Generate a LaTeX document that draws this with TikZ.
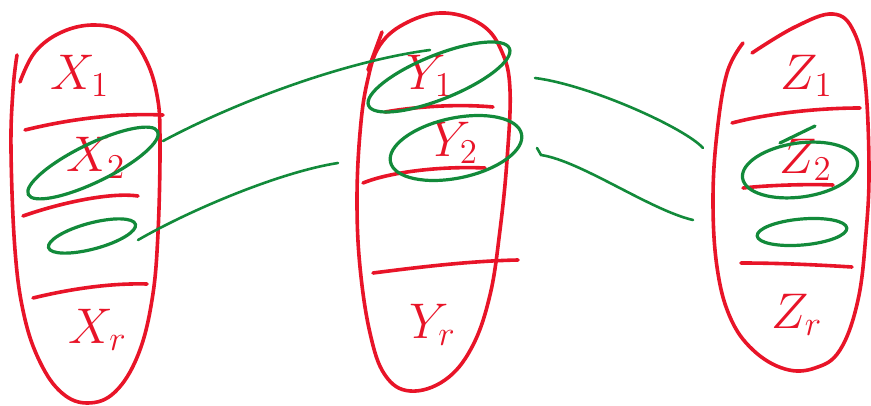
\documentclass[tikz,border=0pt]{standalone}
\definecolor{sred}{RGB}{232,20,40}
\definecolor{sgreen}{RGB}{18,138,58}
\begin{document}
\begin{tikzpicture}[x=1pt,y=-1pt,
  redline/.style={draw=sred,line width=3.6pt,line cap=round,line join=round},
  greenline/.style={draw=sgreen,line width=3.2pt,line cap=round,line join=round},
  conn/.style={draw=sgreen,line width=2.6pt,line cap=round},
  lbl/.style={text=sred,font=\LARGE,scale=2.9,inner sep=0pt}]
\useasboundingbox (0,0) rectangle (871,406);

% ---- left capsule
\draw[redline] plot[smooth,tension=0.65] coordinates {(20,82) (35,52) (62,32) (95,25) (125,33) (145,58) (157,95) (160,140) (158,233) (152,300) (138,355) (115,392) (88,403) (62,393) (40,362) (24,315) (15,250) (11,150) (13,90) (17,55)};
\draw[redline] (25,130) .. controls (70,119) and (117,113) .. (163,115);
\draw[redline] (23,216) .. controls (60,203) and (110,192) .. (138,196);
\draw[redline] (33,298) .. controls (70,289) and (110,283) .. (147,284);
\node[lbl] (x1) at (80,76) {$X_1$};
\node[lbl] (x2) at (96,158) {$X_2$};
\node[lbl] (xr) at (98,330) {$X_r$};

% ---- middle capsule
\draw[redline] plot[smooth cycle,tension=0.65] coordinates {(445,13) (482,25) (502,52) (510,90) (507,160) (500,230) (490,295) (472,347) (445,380) (410,391) (385,375) (370,333) (360,267) (357,200) (360,133) (367,83) (380,45) (408,22)};
\draw[redline] (382,32) -- (368,70);
\draw[redline] (385,112) .. controls (420,106) and (460,104) .. (493,107);
\draw[redline] (363,183) .. controls (390,172) and (440,166) .. (485,168);
\draw[redline] (373,273) .. controls (420,267) and (470,261) .. (518,260);
\node[lbl] (y1) at (430,76) {$Y_1$};
\node[lbl] (y2) at (455,143) {$Y_2$};
\node[lbl] (yr) at (433,325) {$Y_r$};

% ---- right capsule
\draw[redline] plot[smooth,tension=0.65] coordinates {(752,53) (795,27) (833,14) (854,32) (865,80) (869,167) (866,233) (858,300) (840,350) (815,368) (785,369) (753,350) (730,317) (717,267) (713,200) (717,133) (727,73) (743,43)};
\draw[redline] (732,123) .. controls (770,113) and (820,108) .. (860,108);
\draw[redline] (743,188) .. controls (770,185) and (810,184) .. (833,185);
\draw[redline] (741,263) .. controls (780,263) and (820,265) .. (852,267);
\node[lbl] (z1) at (807,76) {$Z_1$};
\node[lbl] (z2) at (806,160) {$Z_2$};
\node[lbl] (zr) at (797,315) {$Z_r$};

% ---- green sets
\draw[greenline,rotate around={26:(93,163)}] (93,163) ellipse [x radius=72,y radius=19];
\draw[greenline,rotate around={15:(92,236)}] (92,236) ellipse [x radius=45,y radius=13];
\draw[greenline,rotate around={22:(439,77)}] (439,77) ellipse [x radius=76,y radius=22];
\draw[greenline,rotate around={12:(456,148)}] (456,148) ellipse [x radius=67,y radius=30];
\draw[greenline,rotate around={8:(800,170)}] (800,170) ellipse [x radius=58,y radius=27];
\draw[greenline,rotate around={5:(802,232)}] (802,232) ellipse [x radius=45,y radius=13];
\draw[greenline] (780,143) -- (815,126);

% ---- connectors
\coordinate (c1a) at (163,141);
\coordinate (c1b) at (430,50);
\coordinate (c2a) at (138,240);
\coordinate (c2b) at (338,163);
\coordinate (c3a) at (535,78);
\coordinate (c3b) at (703,148);
\coordinate (c4s) at (537,148);
\coordinate (c4a) at (541,155);
\coordinate (c4b) at (693,220);
\draw[conn] (c1a) .. controls +(67,-36) and +(-90,12) .. (c1b);
\draw[conn] (c2a) .. controls +(52,-30) and +(-58,9) .. (c2b);
\draw[conn] (c3a) .. controls +(55,7) and +(-18,-20) .. (c3b);
\draw[conn] (c4s) -- (c4a) .. controls +(40,6) and +(-43,-10) .. (c4b);
\end{tikzpicture}
\end{document}
